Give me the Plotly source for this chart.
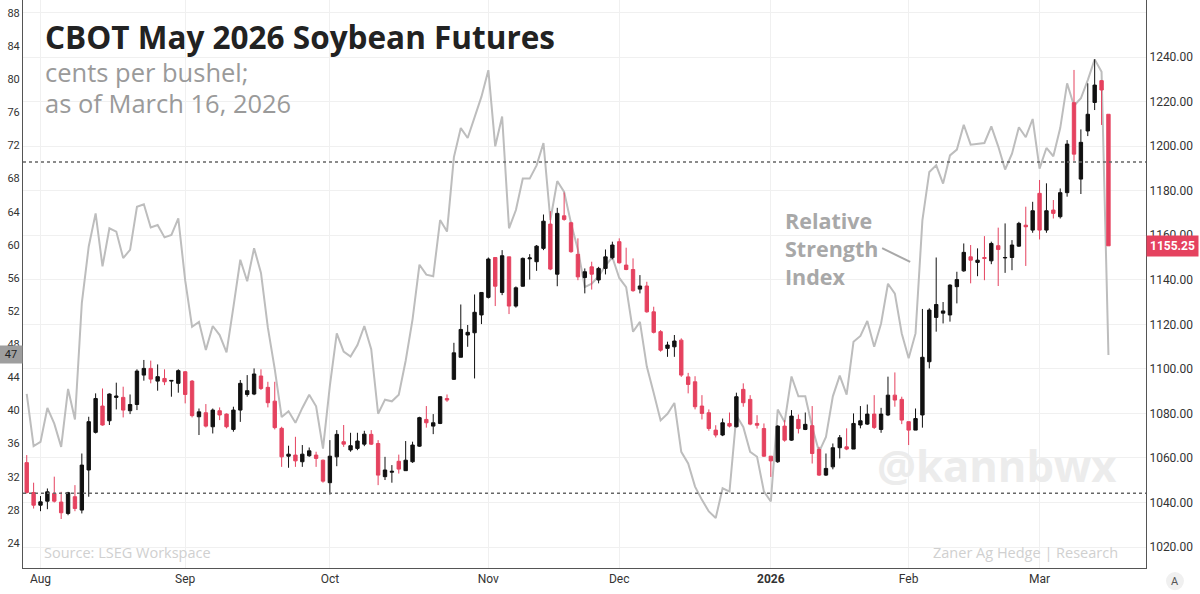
import pandas as pd
import plotly.graph_objects as go

# trading sessions, late Jul 2025 .. Mar 16 2026 (CBOT holidays removed)
holidays = ["2025-09-01", "2025-11-27", "2025-12-25", "2026-01-01", "2026-01-19", "2026-02-16"]
days = [d.strftime("%Y-%m-%d") for d in pd.bdate_range("2025-07-30", "2026-03-16")]
days = [d for d in days if d not in holidays]

opens = [1057.9, 1044.5, 1038.8, 1040.6, 1044.1, 1040.2, 1035.1, 1042.6, 1036.6, 1054.6,
         1071.5, 1083.3, 1076.7, 1087.2, 1087.2, 1081.2, 1084.0, 1097.2, 1100.2, 1094.5,
         1095.7, 1094.5, 1093.5, 1098.7, 1094.5, 1078.5, 1080.3, 1074.0, 1081.2, 1079.7,
         1072.8, 1081.5, 1088.5, 1088.7, 1096.8, 1091.7, 1085.5, 1073.3, 1060.8, 1061.3,
         1058.3, 1061.0, 1061.3, 1059.0, 1048.9, 1060.5, 1067.3, 1063.6, 1064.3, 1066.2,
         1070.6, 1066.5, 1051.6, 1053.6, 1058.5, 1054.3, 1058.3, 1065.3, 1077.3, 1074.3,
         1075.5, 1086.7, 1095.3, 1105.2, 1115.2, 1116.2, 1124.2, 1132.1, 1150.0, 1134.3,
         1150.3, 1128.2, 1137.1, 1149.4, 1148.1, 1154.1, 1165.0, 1142.5, 1168.7, 1165.6,
         1151.4, 1141.0, 1145.8, 1139.9, 1145.1, 1149.9, 1157.1, 1146.6, 1144.6, 1135.8,
         1137.2, 1125.6, 1116.7, 1109.2, 1109.9, 1112.9, 1096.4, 1094.2, 1083.3, 1080.3,
         1072.5, 1070.3, 1075.5, 1074.0, 1090.8, 1086.3, 1075.5, 1073.2, 1060.8, 1058.3,
         1074.3, 1068.0, 1077.3, 1072.8, 1074.5, 1063.8, 1052.3, 1056.0, 1064.6, 1065.0,
         1064.0, 1074.8, 1075.2, 1079.7, 1072.8, 1079.3, 1088.2, 1086.3, 1076.3, 1072.5,
         1079.3, 1103.2, 1123.1, 1125.0, 1124.2, 1136.9, 1144.0, 1150.3, 1147.8, 1150.0,
         1148.5, 1155.3, 1149.8, 1150.0, 1155.1, 1164.5, 1162.3, 1178.8, 1162.3, 1171.3,
         1168.3, 1179.1, 1219.5, 1185.2, 1206.8, 1219.6, 1229.4, 1214.3]
highs = [1061.3, 1048.9, 1042.9, 1046.3, 1051.6, 1044.8, 1044.8, 1047.8, 1062.0, 1078.5,
         1089.0, 1091.2, 1089.0, 1093.8, 1092.0, 1088.5, 1099.8, 1104.0, 1103.7, 1102.0,
         1099.8, 1095.0, 1099.8, 1099.0, 1095.0, 1082.2, 1084.2, 1082.2, 1082.7, 1080.0,
         1083.0, 1095.0, 1097.2, 1100.2, 1099.8, 1094.2, 1094.2, 1074.0, 1065.5, 1069.5,
         1065.8, 1064.7, 1062.8, 1059.3, 1068.0, 1072.5, 1074.8, 1071.3, 1071.3, 1072.2,
         1072.5, 1068.0, 1060.5, 1056.8, 1061.5, 1067.6, 1067.3, 1078.5, 1083.3, 1079.7,
         1087.8, 1088.5, 1111.7, 1128.9, 1119.7, 1133.4, 1134.5, 1150.0, 1150.0, 1153.3,
         1150.3, 1137.0, 1150.0, 1151.5, 1155.6, 1169.3, 1170.8, 1172.3, 1179.2, 1166.0,
         1158.6, 1145.1, 1148.1, 1145.8, 1153.6, 1157.1, 1158.6, 1154.4, 1149.6, 1142.1,
         1139.1, 1127.9, 1117.4, 1112.2, 1115.2, 1113.7, 1098.2, 1096.7, 1088.2, 1081.8,
         1074.7, 1077.7, 1080.4, 1089.3, 1093.5, 1088.2, 1079.2, 1075.5, 1060.8, 1074.7,
         1077.0, 1081.5, 1079.5, 1080.4, 1083.3, 1065.0, 1062.0, 1066.5, 1070.3, 1073.3,
         1080.0, 1083.3, 1084.0, 1088.2, 1082.5, 1096.5, 1098.4, 1087.5, 1076.3, 1082.2,
         1126.9, 1127.2, 1150.0, 1130.0, 1138.0, 1143.6, 1156.3, 1155.6, 1154.1, 1159.6,
         1157.1, 1163.4, 1165.3, 1157.8, 1166.0, 1172.8, 1175.0, 1184.8, 1183.3, 1175.8,
         1181.0, 1202.7, 1234.2, 1207.5, 1228.2, 1239.0, 1229.7, 1214.3]
lows = [1044.0, 1037.3, 1036.1, 1037.0, 1040.0, 1032.6, 1034.3, 1036.1, 1035.1, 1042.6,
        1071.0, 1074.5, 1074.8, 1081.8, 1078.2, 1079.7, 1081.5, 1094.7, 1093.5, 1090.2,
        1092.7, 1087.5, 1089.3, 1084.5, 1078.2, 1070.3, 1073.7, 1071.0, 1077.0, 1073.3,
        1071.8, 1076.2, 1087.5, 1088.2, 1090.5, 1082.7, 1072.8, 1056.0, 1055.6, 1056.0,
        1056.0, 1060.5, 1056.0, 1048.9, 1043.6, 1056.3, 1065.0, 1062.8, 1063.5, 1065.3,
        1065.8, 1047.8, 1050.1, 1048.9, 1053.0, 1054.3, 1057.8, 1065.0, 1073.6, 1070.7,
        1075.2, 1085.2, 1095.0, 1105.2, 1109.9, 1095.7, 1120.1, 1131.6, 1128.2, 1133.1,
        1124.6, 1127.5, 1136.9, 1140.1, 1144.0, 1153.3, 1144.3, 1137.1, 1166.5, 1152.1,
        1139.8, 1133.9, 1135.6, 1138.4, 1142.4, 1149.2, 1147.3, 1144.3, 1134.6, 1133.9,
        1125.2, 1115.9, 1107.7, 1105.4, 1105.4, 1096.4, 1089.0, 1081.8, 1077.3, 1072.2,
        1069.2, 1069.8, 1073.7, 1073.7, 1083.0, 1074.7, 1073.2, 1060.5, 1051.5, 1057.8,
        1067.3, 1067.7, 1071.0, 1072.5, 1057.5, 1051.9, 1051.9, 1054.9, 1059.8, 1063.5,
        1064.0, 1073.3, 1074.8, 1073.0, 1071.3, 1078.8, 1083.0, 1075.2, 1065.8, 1072.5,
        1073.6, 1100.2, 1116.7, 1120.4, 1121.2, 1129.4, 1143.6, 1138.4, 1141.6, 1139.8,
        1147.0, 1137.2, 1143.1, 1144.3, 1154.8, 1146.2, 1161.1, 1158.1, 1161.1, 1167.5,
        1167.5, 1177.3, 1193.4, 1178.5, 1204.5, 1216.2, 1209.5, 1155.25]
closes = [1044.5, 1038.8, 1040.3, 1044.8, 1040.6, 1035.4, 1044.4, 1037.3, 1056.8, 1076.3,
          1086.7, 1074.8, 1088.7, 1087.8, 1081.5, 1084.0, 1099.0, 1100.2, 1095.4, 1096.5,
          1094.2, 1094.8, 1099.2, 1088.5, 1079.0, 1080.7, 1074.3, 1081.5, 1079.3, 1074.0,
          1081.5, 1093.5, 1090.2, 1097.7, 1091.2, 1084.8, 1073.6, 1060.5, 1061.7, 1058.7,
          1061.7, 1063.2, 1059.8, 1049.6, 1060.8, 1070.6, 1066.2, 1065.5, 1067.6, 1070.7,
          1066.2, 1052.3, 1054.6, 1054.0, 1055.0, 1059.0, 1065.8, 1078.1, 1075.8, 1075.8,
          1087.5, 1086.0, 1107.2, 1117.7, 1116.4, 1125.4, 1134.3, 1149.3, 1137.1, 1150.8,
          1128.2, 1136.4, 1149.6, 1149.8, 1155.1, 1166.3, 1144.8, 1169.8, 1167.1, 1152.6,
          1141.3, 1143.6, 1142.5, 1145.1, 1150.3, 1155.6, 1147.6, 1144.6, 1135.1, 1137.2,
          1125.6, 1116.4, 1108.4, 1110.7, 1112.5, 1097.2, 1093.0, 1083.0, 1080.0, 1073.2,
          1070.3, 1075.8, 1074.3, 1087.5, 1084.8, 1075.2, 1074.7, 1060.8, 1058.7, 1074.3,
          1068.0, 1078.8, 1073.2, 1075.1, 1062.0, 1052.3, 1055.3, 1064.6, 1069.1, 1064.0,
          1075.5, 1076.7, 1079.7, 1073.7, 1079.7, 1088.2, 1086.0, 1077.0, 1072.5, 1077.7,
          1105.2, 1126.4, 1128.9, 1126.0, 1137.6, 1140.1, 1152.3, 1148.8, 1148.8, 1149.6,
          1156.3, 1153.6, 1150.0, 1155.6, 1165.3, 1163.8, 1171.0, 1162.3, 1171.0, 1169.8,
          1179.1, 1200.9, 1196.4, 1201.7, 1214.3, 1227.4, 1225.2, 1155.25]
rsi = [42.0, 35.7, 36.2, 40.3, 38.4, 35.6, 42.6, 38.9, 53.0, 59.8,
       63.8, 57.4, 62.0, 61.6, 58.4, 59.4, 64.6, 64.9, 62.1, 62.4,
       60.9, 61.2, 63.2, 55.7, 50.1, 50.7, 47.3, 50.2, 49.1, 47.0,
       52.5, 58.2, 55.6, 59.6, 56.6, 50.0, 45.0, 39.2, 39.9, 38.5,
       40.3, 41.9, 40.5, 35.4, 43.0, 49.3, 47.1, 46.5, 47.9, 50.2,
       47.4, 39.6, 41.3, 41.1, 41.9, 46.0, 51.0, 57.6, 56.4, 56.2,
       63.0, 61.6, 70.6, 74.1, 72.9, 75.5, 77.9, 81.1, 71.9, 75.5,
       62.0, 64.2, 68.0, 68.0, 69.6, 72.3, 63.0, 67.7, 66.4, 62.6,
       59.4, 54.9, 55.3, 56.2, 57.5, 58.5, 56.0, 54.9, 49.5, 50.7,
       45.3, 42.1, 38.8, 39.6, 40.9, 35.0, 33.6, 30.8, 29.2, 27.8,
       27.0, 30.6, 30.2, 39.4, 38.0, 35.0, 34.4, 30.2, 29.0, 40.1,
       38.6, 44.1, 41.7, 41.7, 38.0, 35.0, 36.8, 41.7, 44.2, 41.9,
       48.3, 49.0, 50.8, 47.7, 50.5, 55.3, 54.1, 49.3, 46.3, 49.3,
       63.0, 68.8, 69.6, 67.4, 70.8, 71.5, 74.5, 72.1, 72.2, 72.3,
       74.3, 71.9, 69.1, 71.0, 74.2, 73.0, 75.2, 69.2, 71.7, 70.7,
       74.1, 79.5, 76.8, 77.7, 79.9, 82.4, 80.9, 46.7]

month_ticks = ["2025-08-01", "2025-09-02", "2025-10-01", "2025-11-03",
               "2025-12-01", "2026-01-02", "2026-02-02", "2026-03-02"]
month_labels = ["Aug", "Sep", "Oct", "Nov", "Dec", "<b>2026</b>", "Feb", "Mar"]
price_ticks = list(range(1020, 1261, 20))
rsi_ticks = list(range(24, 89, 4))

RED = "#e5425f"
BLACK = "#111111"

fig = go.Figure()
fig.add_trace(go.Scatter(x=days, y=rsi, mode="lines", yaxis="y",
                         line=dict(color="#bdbdbd", width=2), showlegend=False))
fig.add_trace(go.Candlestick(x=days, open=opens, high=highs, low=lows, close=closes,
                             yaxis="y2", whiskerwidth=0, showlegend=False,
                             increasing=dict(line=dict(color=BLACK, width=1), fillcolor=BLACK),
                             decreasing=dict(line=dict(color=RED, width=1), fillcolor=RED)))

# RSI 70 / 30 levels
for lvl in (70, 30):
    fig.add_shape(type="line", xref="paper", x0=0, x1=1, yref="y", y0=lvl, y1=lvl,
                  line=dict(color="#666666", width=1.5, dash="dot"))

# pointer from label to RSI line
fig.add_shape(type="line", xref="paper", yref="paper", x0=0.765, y0=0.563, x1=0.790, y1=0.539,
              line=dict(color="#a8a8a8", width=2))
fig.add_shape(type="circle", xref="paper", yref="paper", x0=1.0178, x1=1.0338, y0=-0.039, y1=-0.007,
              fillcolor="#f0f0f0", line=dict(width=0), layer="below")

ann = [
    dict(text="<b>CBOT May 2026 Soybean Futures</b>", x=0.0178, y=0.935,
         font=dict(size=31.5, color="#222222", family="Open Sans")),
    dict(text="cents per bushel;", x=0.0178, y=0.873,
         font=dict(size=25.5, color="#9a9a9a", family="Open Sans")),
    dict(text="as of March 16, 2026", x=0.0178, y=0.819,
         font=dict(size=25.5, color="#9a9a9a", family="Open Sans")),
    dict(text="<b>Relative<br>Strength<br>Index</b>", x=0.677, y=0.563, align="left",
         font=dict(size=21.5, color="#a8a8a8", family="Open Sans")),
    dict(text="<b>@kannbwx</b>", x=0.7587, y=0.181,
         font=dict(size=43.5, color="#ececec", family="Open Sans")),
    dict(text="Source: LSEG Workspace", x=0.0169, y=0.028,
         font=dict(size=14.5, color="#d0d0d0", family="Open Sans")),
    dict(text="Zaner Ag Hedge | Research", x=0.9768, y=0.028, xanchor="right",
         font=dict(size=14.5, color="#d0d0d0", family="Open Sans")),
    dict(text="A", x=1.0258, y=-0.023, xanchor="center",
         font=dict(size=11, color="#555555", family="Roboto")),
]
for a in ann:
    a.setdefault("xanchor", "left")
    fig.add_annotation(xref="paper", yref="paper", yanchor="middle", showarrow=False, **a)

# last value tags on both axes
fig.add_annotation(xref="paper", x=1, xanchor="left", yref="y2", y=closes[-1],
                   text="<b>%.2f</b>" % closes[-1], showarrow=False, bgcolor=RED,
                   font=dict(size=12, color="white", family="Roboto"), borderpad=3)
fig.add_annotation(xref="paper", x=0, xanchor="right", yref="y", y=rsi[-1],
                   text="%d" % round(rsi[-1]), showarrow=False, bgcolor="#9e9e9e", width=18,
                   font=dict(size=11, color="#222222", family="Roboto"), borderpad=2)

fig.update_layout(
    width=1200, height=594,
    margin=dict(l=23, r=54, t=0, b=26, autoexpand=False),
    paper_bgcolor="white", plot_bgcolor="white",
    font=dict(family="Roboto", size=12, color="#333333"),
    xaxis=dict(type="category", range=[-0.54, 162.45], tickvals=month_ticks, ticktext=month_labels,
               showgrid=True, gridcolor="#f0f0f0", showline=True, linecolor="#555555",
               ticks="", rangeslider=dict(visible=False), tickfont=dict(size=12), automargin=False),
    yaxis=dict(range=[20.97, 89.57], tickvals=rsi_ticks, showgrid=False, zeroline=False,
               showline=True, linecolor="#555555", ticks="", tickfont=dict(size=11), automargin=False),
    yaxis2=dict(overlaying="y", side="right", range=[1010.6, 1265.6], tickvals=price_ticks,
                ticktext=["%.2f" % p if p < 1260 else "" for p in price_ticks],
                showgrid=True, gridcolor="#f0f0f0", zeroline=False, showline=True,
                linecolor="#555555", ticks="", tickfont=dict(size=12), automargin=False),
    showlegend=False,
)

# page body has a default 8px margin; drop it so the figure fills the window
fig.write_html("out.html", config={"displayModeBar": False},
               post_script="document.body.style.margin='0';document.body.style.overflow='hidden';")
